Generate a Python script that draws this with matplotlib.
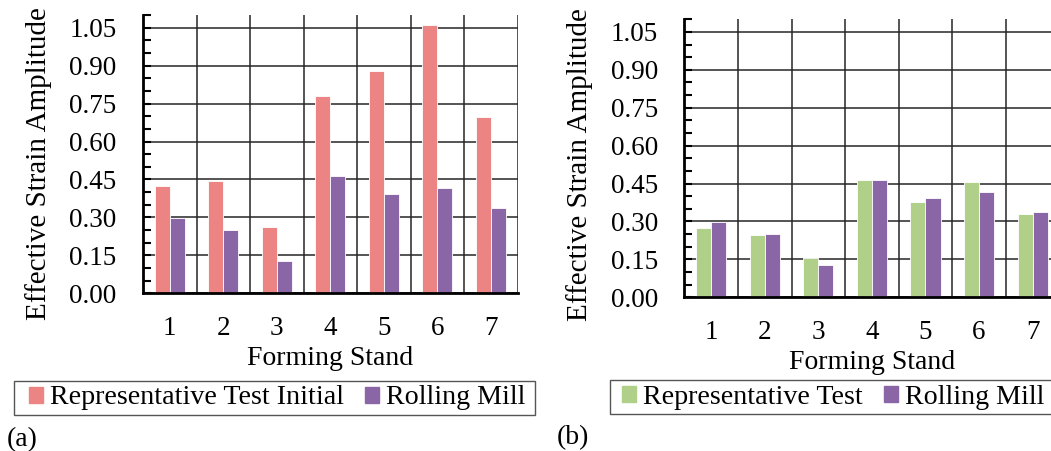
import matplotlib
matplotlib.use('Agg')
import matplotlib.pyplot as plt
from matplotlib.ticker import MultipleLocator
from matplotlib.patches import Patch, Rectangle
import numpy as np

plt.rcParams['font.family'] = ['Liberation Serif', 'DejaVu Serif']

# ---- data ----
stands = ['1', '2', '3', '4', '5', '6', '7']
rep_test_initial = [0.425, 0.445, 0.263, 0.779, 0.880, 1.059, 0.696]
rolling_mill = [0.299, 0.251, 0.129, 0.463, 0.394, 0.416, 0.337]
rep_test = [0.274, 0.248, 0.154, 0.463, 0.378, 0.458, 0.331]
y_major = [0.00, 0.15, 0.30, 0.45, 0.60, 0.75, 0.90, 1.05]
y_labels = ['0.00', '0.15', '0.30', '0.45', '0.60', '0.75', '0.90', '1.05']

c_pink = '#EB8482'
c_purple = '#8B66A6'
c_green = '#B0CF89'

W, H = 1051, 451
fig = plt.figure(figsize=(W / 100, H / 100), dpi=100)


def px_axes(l, t, r, b):
    return fig.add_axes([l / W, 1 - b / H, (r - l) / W, (b - t) / H])


def style(ax, s1, s2, c1, c2, ylab_y):
    x = np.arange(1, len(stands) + 1)
    bw = 0.28
    ax.bar(x - bw / 2, s1, bw, color=c1, edgecolor='white', linewidth=0.6)
    ax.bar(x + bw / 2, s2, bw, color=c2, edgecolor='white', linewidth=0.6)
    ax.set_xlim(0.5, 7.5)
    ax.set_ylim(0, 1.10)
    ax.set_xticks(x)
    ax.set_xticklabels(stands, fontsize=19.5)
    ax.set_xticks(np.arange(1.5, 7.6, 1.0), minor=True)
    ax.set_yticks(y_major)
    ax.set_yticklabels(y_labels, fontsize=19.5)
    ax.yaxis.set_minor_locator(MultipleLocator(0.05))
    ax.grid(axis='y', which='major', color='#262626', linewidth=1.1)
    ax.grid(axis='x', which='minor', color='#262626', linewidth=1.1)
    ax.set_axisbelow(True)
    for s in ['top', 'right']:
        ax.spines[s].set_visible(False)
    for s in ['left', 'bottom']:
        ax.spines[s].set_linewidth(2.0)
        ax.spines[s].set_color('black')
        ax.spines[s].set_zorder(5)
    ax.tick_params(axis='y', which='both', direction='in', length=5.5, width=1.5,
                   pad=19, colors='black')
    ax.tick_params(axis='x', which='both', length=0, pad=16)
    ax.set_xlabel('Forming Stand', fontsize=20, labelpad=4)
    ax.set_ylabel('Effective Strain Amplitude', fontsize=21)
    ax.yaxis.set_label_coords(-0.243, ylab_y)


ax1 = px_axes(143, 15, 517.7, 293.3)
style(ax1, rep_test_initial, rolling_mill, c_pink, c_purple, 0.465)
ax2 = px_axes(684.3, 19.3, 1059.5, 297.3)
style(ax2, rep_test, rolling_mill, c_green, c_purple, 0.476)

leg_kw = dict(ncol=2, frameon=False, handlelength=0.5, handleheight=0.5,
              handletextpad=0.25, columnspacing=0.75, borderpad=0,
              fontsize=20.2, borderaxespad=0)

# legend boxes (drawn as plain rectangles, in pixel positions of the figure)
for (x0, y0, x1, y1) in [(14, 381, 535, 415), (610, 380, 1062, 414)]:
    fig.patches.append(Rectangle((x0 / W, 1 - y1 / H), (x1 - x0) / W, (y1 - y0) / H,
                                 transform=fig.transFigure, fill=False,
                                 edgecolor='#555555', linewidth=1.0))

h1 = [Patch(color=c_pink), Patch(color=c_purple)]
fig.legend(h1, ['Representative Test Initial', 'Rolling Mill'], loc='center left',
           bbox_to_anchor=(28.6 / W, 1 - 398 / H), **leg_kw)

h2 = [Patch(color=c_green), Patch(color=c_purple)]
fig.legend(h2, ['Representative Test', 'Rolling Mill'], loc='center left',
           bbox_to_anchor=(622 / W, 1 - 397 / H), **leg_kw)

fig.text(7 / W, 1 - 440 / H, '(a)', fontsize=20, va='center', ha='left')
fig.text(557 / W, 1 - 438 / H, '(b)', fontsize=20, va='center', ha='left')

fig.savefig('out.png', dpi=100)
